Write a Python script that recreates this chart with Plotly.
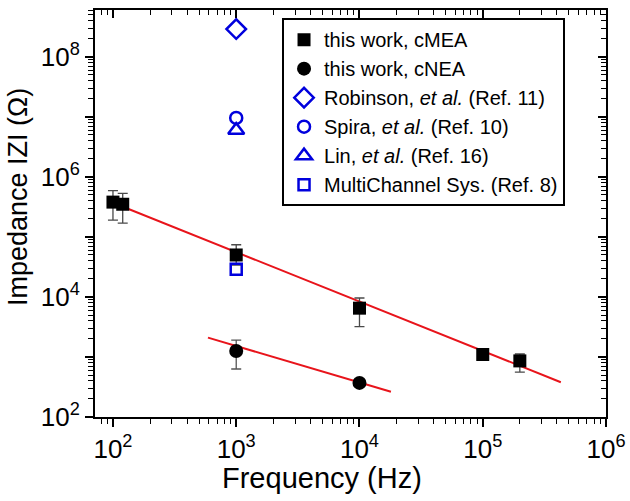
import plotly.graph_objects as go
import numpy as np

# ---- data ----
mea_freq = [100, 120, 1000, 10000, 100000, 200000]
mea_z = [3.8e5, 3.5e5, 5.0e4, 6.5e3, 1.1e3, 860]
mea_err_plus = [2.1e5, 1.8e5, 2.4e4, 3.1e3, 0.15e3, 260]
mea_err_minus = [1.9e5, 1.8e5, 1.6e4, 3.3e3, 0.15e3, 300]

nea_freq = [1000, 10000]
nea_z = [1.26e3, 370]
nea_err_plus = [0.65e3, 40]
nea_err_minus = [0.63e3, 40]

robinson_freq = [1000]
robinson_z = [2.9e8]
spira_freq = [1000]
spira_z = [9.6e6]
lin_freq = [1000]
lin_z = [6.0e6]
mcs_freq = [1000]
mcs_z = [2.9e4]

fit_mea_freq = [100, 4.3e5]
fit_mea_z = [3.7e5, 380]
fit_nea_freq = [590, 1.8e4]
fit_nea_z = [2.1e3, 263]

x_tickvals = [1e2, 1e3, 1e4, 1e5, 1e6]
x_ticktext = ["10<sup>2</sup>", "10<sup>3</sup>", "10<sup>4</sup>", "10<sup>5</sup>", "10<sup>6</sup>"]
y_tickvals = [1e2, 1e3, 1e4, 1e5, 1e6, 1e7, 1e8]
y_ticktext = ["10<sup>2</sup>", "", "10<sup>4</sup>", "", "10<sup>6</sup>", "", "10<sup>8</sup>"]

x_range = [np.log10(71.5), 6]
y_range = [2, 8.78]

FONT = "Liberation Sans, Arial, sans-serif"
BLUE = "#0000dd"

fig = go.Figure()

fig.add_trace(go.Scatter(x=fit_mea_freq, y=fit_mea_z, mode="lines",
                         line=dict(color="#e8141b", width=2), showlegend=False))
fig.add_trace(go.Scatter(x=fit_nea_freq, y=fit_nea_z, mode="lines",
                         line=dict(color="#e8141b", width=2), showlegend=False))

fig.add_trace(go.Scatter(
    x=mea_freq, y=mea_z, mode="markers", name="this work, cMEA",
    marker=dict(symbol="square", size=13, color="black"),
    error_y=dict(type="data", array=mea_err_plus, arrayminus=mea_err_minus,
                 color="#4a4a4a", thickness=1.3, width=5)))
fig.add_trace(go.Scatter(
    x=nea_freq, y=nea_z, mode="markers", name="this work, cNEA",
    marker=dict(symbol="circle", size=14, color="black"),
    error_y=dict(type="data", array=nea_err_plus, arrayminus=nea_err_minus,
                 color="#555555", thickness=1.3, width=5)))
fig.add_trace(go.Scatter(
    x=robinson_freq, y=robinson_z, mode="markers",
    name="Robinson, <i>et al.</i> (Ref. 11)",
    marker=dict(symbol="diamond-open", size=15, color=BLUE, line=dict(width=2.5, color=BLUE))))
fig.add_trace(go.Scatter(
    x=spira_freq, y=spira_z, mode="markers",
    name="Spira, <i>et al.</i> (Ref. 10)",
    marker=dict(symbol="circle-open", size=12, color=BLUE, line=dict(width=2.5, color=BLUE))))
fig.add_trace(go.Scatter(
    x=lin_freq, y=lin_z, mode="markers",
    name="Lin, <i>et al.</i> (Ref. 16)",
    marker=dict(symbol="triangle-up-open", size=14, color=BLUE, line=dict(width=2.5, color=BLUE))))
fig.add_trace(go.Scatter(
    x=mcs_freq, y=mcs_z, mode="markers",
    name="MultiChannel Sys. (Ref. 8)",
    marker=dict(symbol="square-open", size=11, color=BLUE, line=dict(width=2.5, color=BLUE))))

# dummy trace to create mirrored axes (top/right) with inside ticks
fig.add_trace(go.Scatter(x=[None], y=[None], xaxis="x2", yaxis="y2",
                         showlegend=False, hoverinfo="skip"))

def minor_vals(lo, hi):
    return [m * 10 ** d for d in range(lo, hi) for m in range(2, 10)]

xminor = minor_vals(1, 6)
yminor = minor_vals(2, 9)

common = dict(showgrid=False, zeroline=False, showline=True, linecolor="black",
              linewidth=2, tickcolor="black", tickwidth=1.5, automargin=False)

fig.update_layout(
    width=630, height=501,
    margin=dict(l=95, r=24, t=10, b=84),
    paper_bgcolor="white", plot_bgcolor="white",
    font=dict(family=FONT, color="black"),
    xaxis=dict(type="log", range=x_range, tickmode="array", tickvals=x_tickvals,
               ticktext=x_ticktext, ticks="outside", ticklen=8,
               tickfont=dict(size=26),
               minor=dict(tickmode="array", tickvals=xminor, ticks="outside",
                          ticklen=5, tickcolor="black", tickwidth=1.2),
               **common),
    yaxis=dict(type="log", range=y_range, tickmode="array", tickvals=y_tickvals,
               ticktext=y_ticktext, ticks="outside", ticklen=8,
               tickfont=dict(size=26),
               minor=dict(tickmode="array", tickvals=yminor, ticks="outside",
                          ticklen=5, tickcolor="black", tickwidth=1.2),
               **common),
    xaxis2=dict(type="log", range=x_range, overlaying="x", side="top", anchor="y2",
                tickmode="array", tickvals=x_tickvals, showticklabels=False,
                ticks="inside", ticklen=8,
                minor=dict(tickmode="array", tickvals=xminor, ticks="inside",
                           ticklen=5, tickcolor="black", tickwidth=1.2),
                **common),
    yaxis2=dict(type="log", range=y_range, overlaying="y", side="right", anchor="x2",
                tickmode="array", tickvals=y_tickvals, showticklabels=False,
                ticks="inside", ticklen=8,
                minor=dict(tickmode="array", tickvals=yminor, ticks="inside",
                           ticklen=5, tickcolor="black", tickwidth=1.2),
                **common),
    legend=dict(x=0.366, y=0.98, xanchor="left", yanchor="top",
                bordercolor="black", borderwidth=2, bgcolor="white",
                font=dict(size=20, family=FONT), tracegroupgap=0,
                itemsizing="trace"),
    showlegend=True,
    annotations=[
        dict(text="Frequency (Hz)", xref="paper", yref="paper",
             x=(322 - 95) / 511, y=-(478 - 417) / 407, xanchor="center", yanchor="middle",
             showarrow=False, font=dict(size=29, family=FONT)),
        dict(text="Impedance IZI (Ω)", xref="paper", yref="paper", textangle=-90,
             x=-(95 - 18) / 511, y=(417 - 197) / 407, xanchor="center", yanchor="middle",
             showarrow=False, font=dict(size=27, family=FONT)),
    ],
)

fig.write_html("out.html", config={"displayModeBar": False},
               post_script="document.body.style.margin='0';document.body.style.padding='0';")
